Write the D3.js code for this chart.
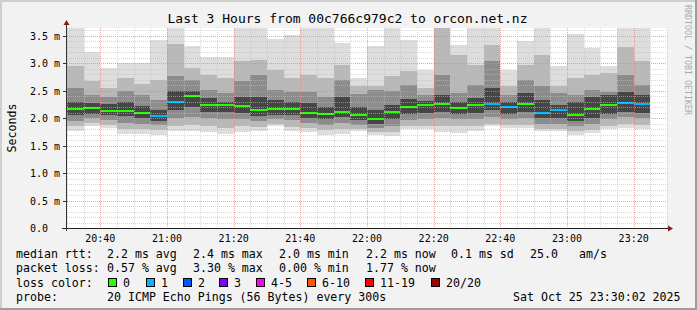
<!DOCTYPE html>
<html><head><meta charset="utf-8">
<script src="https://cdn.jsdelivr.net/npm/d3@7"></script>
<style>html,body{margin:0;padding:0;background:#f2f2f2;} svg{display:block;}</style>
</head><body><svg id="c" width="697" height="310"></svg>
<script>
// ---- data (5-minute steps, each bar = one probe round of 20 pings; values in ms) ----
const barStart = ["20:30","20:35","20:40","20:45","20:50","20:55","21:00","21:05","21:10","21:15","21:20","21:25",
  "21:30","21:35","21:40","21:45","21:50","21:55","22:00","22:05","22:10","22:15","22:20","22:25",
  "22:30","22:35","22:40","22:45","22:50","22:55","23:00","23:05","23:10","23:15","23:20"];
const medianRtt = [2.16,2.18,2.13,2.13,2.10,2.03,2.30,2.41,2.24,2.24,2.22,2.14,2.16,2.16,2.10,2.07,2.12,
  2.05,1.98,2.12,2.21,2.23,2.25,2.19,2.23,2.25,2.21,2.25,2.10,2.14,2.06,2.17,2.23,2.28,2.25];
const lossCount = [0,0,0,0,0,1,1,0,0,0,0,0,0,0,0,0,0,0,0,0,0,0,0,0,0,1,1,0,1,1,0,0,0,1,1];
const pingMax = [3.9,3.21,2.91,3.00,3.00,3.42,3.9,3.32,3.12,3.12,3.9,3.9,3.44,3.52,3.9,3.9,3.36,
  2.73,3.32,3.9,3.42,2.88,3.9,3.33,3.9,3.9,2.88,3.41,3.9,2.95,3.53,3.28,2.95,3.9,3.9];
const pingHi2 = [2.94,2.67,2.55,2.73,2.62,2.70,3.34,2.91,2.79,2.73,3.04,3.06,2.88,2.73,2.79,2.73,2.97,
  2.58,2.58,2.76,2.85,2.55,3.9,3.15,2.97,3.33,2.59,2.97,3.15,2.59,2.73,2.79,2.82,3.30,3.04];
const pingHi3 = [2.55,2.42,2.38,2.50,2.42,2.33,2.76,2.70,2.52,2.45,2.67,2.79,2.52,2.48,2.48,2.39,2.70,
  2.43,2.52,2.50,2.60,2.42,2.79,2.45,2.61,3.04,2.42,2.70,2.58,2.45,2.42,2.52,2.48,2.79,2.61];
const pingHi4 = [2.30,2.28,2.25,2.30,2.22,2.15,2.50,2.50,2.36,2.30,2.39,2.39,2.33,2.30,2.27,2.21,2.39,
  2.20,2.15,2.24,2.35,2.32,2.42,2.30,2.37,2.55,2.30,2.45,2.33,2.24,2.30,2.38,2.42,2.48,2.42];
const pingLo4 = [2.05,2.08,2.05,2.03,2.00,1.95,2.15,2.20,2.12,2.12,2.10,2.04,2.06,2.06,2.00,1.98,2.02,
  1.96,1.90,1.98,2.08,2.10,2.12,2.08,2.10,2.14,2.08,2.12,2.00,2.00,1.95,2.00,2.08,2.12,2.10];
const pingLo3 = [1.95,2.00,1.97,1.92,1.90,1.88,2.00,2.02,2.00,1.98,1.98,1.95,1.98,1.96,1.92,1.88,1.92,
  1.88,1.82,1.85,1.97,1.98,2.00,1.98,1.98,2.02,1.98,2.00,1.90,1.90,1.85,1.90,1.98,2.02,2.00];
const pingLo2 = [1.85,1.92,1.88,1.80,1.80,1.78,1.85,1.88,1.85,1.82,1.85,1.84,1.90,1.84,1.82,1.78,1.80,
  1.80,1.75,1.74,1.86,1.86,1.85,1.85,1.85,1.90,1.88,1.88,1.80,1.80,1.76,1.78,1.86,1.90,1.88];
const pingMin = [1.77,1.85,1.82,1.71,1.71,1.70,1.76,1.76,1.74,1.71,1.74,1.76,1.85,1.76,1.74,1.70,1.71,
  1.76,1.70,1.67,1.80,1.80,1.74,1.73,1.76,1.85,1.82,1.82,1.76,1.76,1.70,1.73,1.80,1.82,1.80];

const yTicks = [0,0.5,1.0,1.5,2.0,2.5,3.0,3.5];
const yTickLabels = ["0.0","0.5 m","1.0 m","1.5 m","2.0 m","2.5 m","3.0 m","3.5 m"];
const xTickLabels = ["20:40","21:00","21:20","21:40","22:00","22:20","22:40","23:00","23:20"];
const lossLabels = ["0","1","2","3","4-5","6-10","11-19","20/20"];
const lossColors = ["#26ff00","#00b8ff","#0059ff","#7e00ff","#ff00ff","#ff5500","#ff0000","#a10000"];
const smokeColors = ["#dddddd","#b8b8b8","#8c8c8c","#464646"];

const title = "Last 3 Hours from 00c766c979c2 to orcon.net.nz";
const legendRows = [
  [["median rtt:",16],["2.2 ms avg",107],["2.4 ms max",193],["2.0 ms min",279],["2.2 ms now",366],["0.1 ms sd",451],["25.0",530],["am/s",579]],
  [["packet loss:",16],["0.57 % avg",107],["3.30 % max",193],["0.00 % min",279],["1.77 % now",366]],
  [["loss color:",16]],
  [["probe:",16],["20 ICMP Echo Pings (56 Bytes) every 300s",107],["Sat Oct 25 23:30:02 2025",513]]
];
const lossBoxX = [108,146,183,219,256,307,365,431];

// ---- drawing ----
const W = 697, H = 310;
const FONT = "'DejaVu Sans Mono', monospace";
const svg = d3.select("#c");
svg.append("rect").attr("width", W).attr("height", H).attr("fill", "#f2f2f2");
// 3D frame
svg.append("path").attr("d", `M0,0H${W}V2H2V${H}H0Z`).attr("fill", "#cfcfcf");
svg.append("path").attr("d", `M${W},${H}H0V${H-2}H${W-2}V0H${W}Z`).attr("fill", "#9e9e9e");

const parse = d3.timeParse("%H:%M");
const x = d3.scaleTime().domain([parse("20:30"), parse("23:30")]).range([67, 667]);
const y = d3.scaleLinear().domain([0, 3.64]).range([228, 28]);
const [px0, px1] = x.range(), [py0, py1] = y.range();

svg.append("rect").attr("x", px0).attr("y", py1).attr("width", px1 - px0).attr("height", py0 - py1).attr("fill", "#ffffff");
svg.append("clipPath").attr("id", "pc").append("rect")
  .attr("x", px0).attr("y", py1).attr("width", px1 - px0).attr("height", py0 - py1);

const plot = svg.append("g").attr("clip-path", "url(#pc)");
const bars = barStart.map((s, i) => {
  const t0 = parse(s), t1 = d3.timeMinute.offset(t0, 5);
  return {i, x0: Math.round(x(t0)), x1: Math.round(x(t1))};
});
const layers = [[pingMin, pingMax], [pingLo2, pingHi2], [pingLo3, pingHi3], [pingLo4, pingHi4]];
layers.forEach(([lo, hi], li) => {
  plot.append("g").attr("shape-rendering", "crispEdges").selectAll("rect").data(bars).join("rect")
    .attr("x", d => d.x0).attr("width", d => d.x1 - d.x0)
    .attr("y", d => Math.round(y(hi[d.i])))
    .attr("height", d => Math.round(y(lo[d.i])) - Math.round(y(hi[d.i])))
    .attr("fill", smokeColors[li]);
});

// grid (over smoke)
const grid = svg.append("g").attr("shape-rendering", "crispEdges");
const minorY = y.ticks(36);
grid.selectAll(".hmin").data(minorY).join("line")
  .attr("x1", px0).attr("x2", px1)
  .attr("y1", d => Math.round(y(d)) + 0.5).attr("y2", d => Math.round(y(d)) + 0.5)
  .attr("stroke", "rgba(190,190,190,0.6)").attr("stroke-dasharray", "1,1");
const minorX = x.ticks(d3.timeMinute.every(5));
grid.selectAll(".vmin").data(minorX).join("line")
  .attr("y1", py1).attr("y2", py0)
  .attr("x1", d => Math.round(x(d)) + 0.5).attr("x2", d => Math.round(x(d)) + 0.5)
  .attr("stroke", "rgba(190,190,190,0.6)").attr("stroke-dasharray", "1,1");
grid.selectAll(".hmaj").data(yTicks.filter(v => v > 0)).join("line")
  .attr("x1", px0).attr("x2", px1)
  .attr("y1", d => Math.round(y(d)) + 0.5).attr("y2", d => Math.round(y(d)) + 0.5)
  .attr("stroke", "rgba(240,90,90,0.38)").attr("stroke-dasharray", "1,1");
grid.selectAll(".vmaj").data(xTickLabels).join("line")
  .attr("y1", py1).attr("y2", py0)
  .attr("x1", d => Math.round(x(parse(d))) + 0.5).attr("x2", d => Math.round(x(parse(d))) + 0.5)
  .attr("stroke", "rgba(240,90,90,0.38)").attr("stroke-dasharray", "1,1");

// median lines coloured by loss
const lossIdx = n => n <= 3 ? n : n <= 5 ? 4 : n <= 10 ? 5 : n <= 19 ? 6 : 7;
plot.append("g").attr("shape-rendering", "crispEdges").selectAll("rect").data(bars).join("rect")
  .attr("x", d => d.x0).attr("width", d => d.x1 - d.x0)
  .attr("y", d => Math.round(y(medianRtt[d.i])) - 1).attr("height", 2)
  .attr("fill", d => lossColors[lossIdx(lossCount[d.i])]);

// axes
const ax = svg.append("g").attr("shape-rendering", "crispEdges");
ax.append("line").attr("x1", 62).attr("x2", 669).attr("y1", py0 + 0.5).attr("y2", py0 + 0.5).attr("stroke", "#222");
ax.append("line").attr("x1", px0 - 0.5).attr("x2", px0 - 0.5).attr("y1", 231).attr("y2", 24).attr("stroke", "#333");
ax.selectAll(".tk").data(yTicks.filter(v => v > 0)).join("line")
  .attr("x1", 63).attr("x2", px0).attr("y1", d => Math.round(y(d)) + 0.5).attr("y2", d => Math.round(y(d)) + 0.5)
  .attr("stroke", "#333");
svg.append("path").attr("d", `M668,${py0 - 2.5}L673,${py0 + 0.5}L668,${py0 + 3.5}Z`).attr("fill", "#8b1a1a");
svg.append("path").attr("d", `M${px0 - 3.5},25L${px0 - 0.5},20L${px0 + 2.5},25Z`).attr("fill", "#8b1a1a");

// tick labels
svg.selectAll(".yl").data(yTicks).join("text")
  .attr("x", 30).attr("y", d => Math.round(y(d)) + 3.5)
  .attr("font-family", FONT).attr("font-size", "10px").attr("fill", "#000")
  .text((d, i) => yTickLabels[i]);
svg.selectAll(".xl").data(xTickLabels).join("text")
  .attr("x", d => x(parse(d))).attr("y", 242)
  .attr("text-anchor", "middle").attr("font-family", FONT).attr("font-size", "10px").attr("fill", "#000")
  .text(d => d);

// title, axis label, watermark
svg.append("text").attr("x", 347.5).attr("y", 23).attr("text-anchor", "middle")
  .attr("font-family", FONT).attr("font-size", "13px").attr("fill", "#000").text(title);
svg.append("text").attr("transform", "translate(15.5,128) rotate(-90)").attr("text-anchor", "middle")
  .attr("font-family", FONT).attr("font-size", "11.6px").attr("fill", "#000").text("Seconds");
svg.append("text").attr("transform", "translate(685,5) rotate(90)")
  .attr("font-family", FONT).attr("font-size", "8.3px").attr("fill", "#aaaaaa").text("RRDTOOL / TOBI OETIKER");

// legend
const baselines = [258, 272, 286.5, 300.5];
legendRows.forEach((row, r) => {
  row.forEach(([t, lx]) => {
    svg.append("text").attr("x", lx).attr("y", baselines[r]).attr("xml:space", "preserve")
      .attr("font-family", FONT).attr("font-size", "11.6px").attr("fill", "#000").text(t);
  });
});
lossLabels.forEach((lab, k) => {
  svg.append("rect").attr("x", lossBoxX[k] + 0.5).attr("y", 278.5).attr("width", 8).attr("height", 8)
    .attr("fill", lossColors[k]).attr("stroke", "#000").attr("stroke-width", 1);
  svg.append("text").attr("x", lossBoxX[k] + 15).attr("y", baselines[2])
    .attr("font-family", FONT).attr("font-size", "11.6px").attr("fill", "#000").text(lab);
});
</script>
</body></html>
